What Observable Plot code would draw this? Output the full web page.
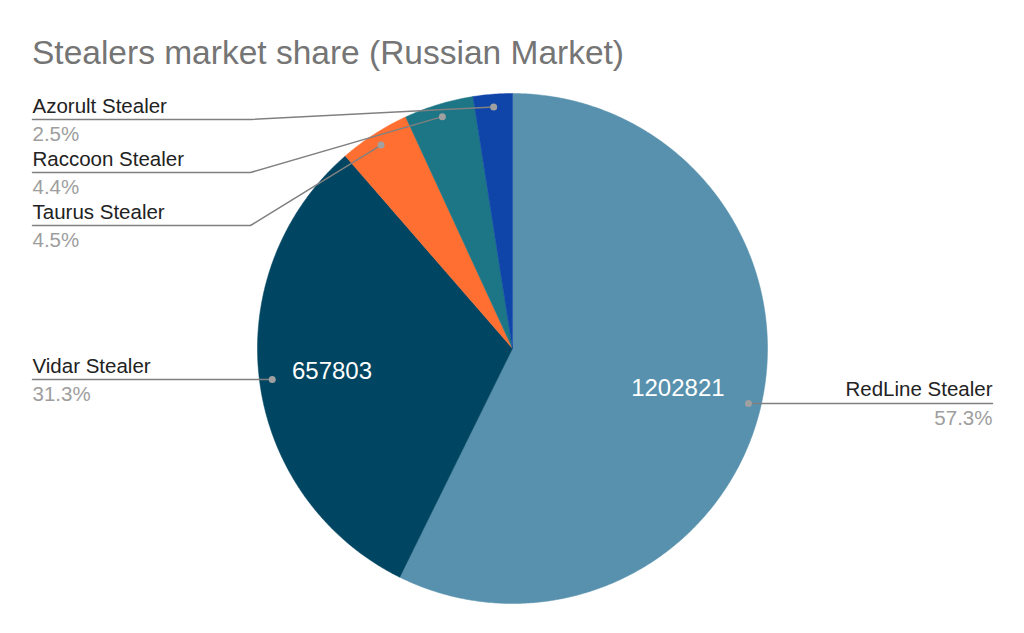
<!DOCTYPE html>
<html><head><meta charset="utf-8">
<script src="https://cdn.jsdelivr.net/npm/d3@7"></script>
<script src="https://cdn.jsdelivr.net/npm/@observablehq/plot@0.6"></script>
<style>
body{margin:0;background:#fff;font-family:"Liberation Sans", Arial, sans-serif;}
#title{height:80px;box-sizing:border-box;padding:33px 0 0 32px;font-size:33.5px;line-height:40px;color:#757575;white-space:nowrap;overflow:hidden}
#chart svg{display:block}
</style></head><body>
<div id="title">Stealers market share (Russian Market)</div>
<div id="chart"></div>
<script>
// Data
const names = ["RedLine Stealer", "Vidar Stealer", "Taurus Stealer", "Raccoon Stealer", "Azorult Stealer"];
const values = [1202821, 657803, 94500, 92400, 52000];
const percentLabels = ["57.3%", "31.3%", "4.5%", "4.4%", "2.5%"];
const colors = ["#5891ad", "#004561", "#ff6f31", "#1c7685", "#0f45a8"];
const showValue = [true, true, false, false, false];

const data = names.map((name, i) => ({name, value: values[i], pct: percentLabels[i], show: showValue[i]}));

// Layout
const W = 1024, H = 553;
const cx = 512, cy = 268, R = 255;
const pt = (a, r) => [cx + r * Math.sin(a), cy - r * Math.cos(a)];

const arcs = d3.pie().sort(null).value(d => d.value)(data);

// Wedge polygons
const wedgePts = [];
for (const a of arcs) {
  const n = Math.max(4, Math.ceil((a.endAngle - a.startAngle) / (Math.PI / 360)));
  wedgePts.push({name: a.data.name, x: cx, y: cy});
  for (let k = 0; k <= n; k++) {
    const ang = a.startAngle + (a.endAngle - a.startAngle) * k / n;
    const [x, y] = pt(ang, R);
    wedgePts.push({name: a.data.name, x, y});
  }
  wedgePts.push({name: a.data.name, x: cx, y: cy});
}

// Label geometry
const labels = arcs.map(a => {
  const mid = (a.startAngle + a.endAngle) / 2;
  const [dx, dy] = pt(mid, R * 0.95);
  const [vx, vy] = pt(mid, R * 0.69);
  return {name: a.data.name, pct: a.data.pct, value: a.data.value, show: a.data.show,
          side: Math.sin(mid) < 0 ? "left" : "right", dx, dy, vx, vy};
});
const left = labels.filter(d => d.side === "left").sort((a, b) => a.dy - b.dy);
let prev = -Infinity;
for (const d of left) {
  d.ly = Math.max(d.dy, prev + 53, 39);
  prev = d.ly;
}
for (const d of labels.filter(d => d.side === "right")) d.ly = d.dy;

const leaderPts = [];
for (const d of labels) {
  if (d.side === "left") {
    leaderPts.push({name: d.name, x: 32, y: d.ly});
    if (Math.abs(d.ly - d.dy) > 0.5) leaderPts.push({name: d.name, x: 250, y: d.ly});
    leaderPts.push({name: d.name, x: d.dx, y: d.dy});
  } else {
    leaderPts.push({name: d.name, x: d.dx, y: d.dy});
    leaderPts.push({name: d.name, x: 992, y: d.ly});
  }
}
const L = labels.filter(d => d.side === "left");
const Rt = labels.filter(d => d.side === "right");
const FS = 20.5;

const chart = Plot.plot({
  width: W, height: H,
  margin: 0,
  style: {fontFamily: "'Liberation Sans', Arial, sans-serif", background: "white"},
  x: {domain: [0, W], range: [0, W], axis: null},
  y: {domain: [0, H], range: [0, H], axis: null},
  color: {domain: names, range: colors},
  marks: [
    Plot.line(wedgePts, {x: "x", y: "y", z: "name", fill: "name", stroke: "name", strokeWidth: 0.5, curve: "linear"}),
    Plot.line(leaderPts, {x: "x", y: "y", z: "name", stroke: "#808080", strokeWidth: 1.5}),
    Plot.dot(labels, {x: "dx", y: "dy", r: 3.5, fill: "#a0a0a0", stroke: null}),
    Plot.text(L, {x: 32, y: d => d.ly - 7, text: "name", textAnchor: "start", lineAnchor: "bottom", fontSize: FS, fill: "#222"}),
    Plot.text(Rt, {x: 992, y: d => d.ly - 7, text: "name", textAnchor: "end", lineAnchor: "bottom", fontSize: FS, fill: "#222"}),
    Plot.text(L, {x: 32, y: d => d.ly + 7, text: "pct", textAnchor: "start", lineAnchor: "top", fontSize: FS, fill: "#9e9e9e"}),
    Plot.text(Rt, {x: 992, y: d => d.ly + 7, text: "pct", textAnchor: "end", lineAnchor: "top", fontSize: FS, fill: "#9e9e9e"}),
    Plot.text(labels.filter(d => d.show), {x: "vx", y: "vy", dx: -6, text: d => String(d.value), textAnchor: "middle", lineAnchor: "middle", fontSize: 24, fill: "white"})
  ]
});
document.getElementById("chart").appendChild(chart);
</script>
</body></html>
